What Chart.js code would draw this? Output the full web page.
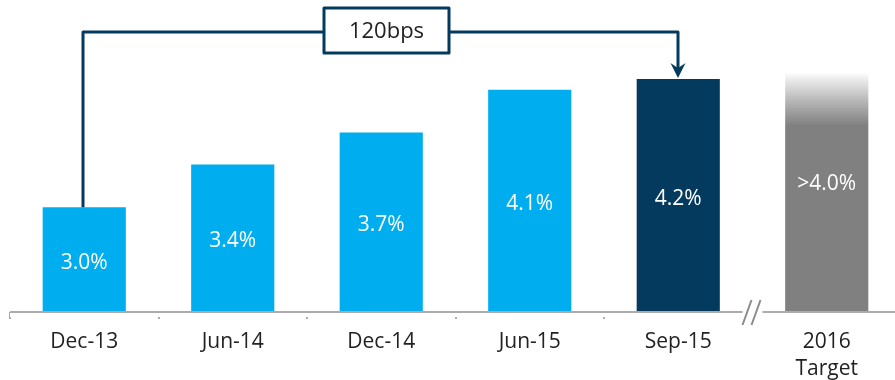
<!DOCTYPE html>
<html>
<head>
<meta charset="utf-8">
<script src="https://cdn.jsdelivr.net/npm/chart.js@4/dist/chart.umd.min.js"></script>
<style>
  html, body { margin: 0; padding: 0; background: #fff; overflow: hidden; }
  #wrap { width: 901px; height: 380px; }
</style>
</head>
<body>
<div id="wrap"><canvas id="nim" width="901" height="380"></canvas></div>
<script>
// Margin progression by period, plus 2016 target
const categories = ['Dec-13', 'Jun-14', 'Dec-14', 'Jun-15', 'Sep-15', ['2016', 'Target']];
const values = [3.0, 3.4, 3.7, 4.1, 4.2, 4.25];
const valueLabels = ['3.0%', '3.4%', '3.7%', '4.1%', '4.2%', '>4.0%'];
const spreadLabel = '120bps';
const spreadFrom = 0;   // Dec-13
const spreadTo = 4;     // Sep-15
const breakAfter = 4;   // axis break before the target bar

const LIGHT_BLUE = '#00AEEF';
const NAVY = '#043A5E';
const GREY = '#808080';
const AXIS_COLOR = '#ABABAB';
const TEXT_COLOR = '#222222';
const FONT = '"Open Sans", sans-serif';

function barColor(ctx) {
  const i = ctx.dataIndex;
  if (i === spreadTo) return NAVY;
  if (i < spreadTo) return LIGHT_BLUE;
  // target bar fades out towards the top
  const chart = ctx.chart;
  const y = chart.scales.y;
  if (!chart.chartArea || !y) return GREY;
  const top = y.getPixelForValue(values[i]);
  const g = chart.ctx.createLinearGradient(0, top, 0, top + 52);
  g.addColorStop(0, 'rgba(128,128,128,0.04)');
  g.addColorStop(0.5, 'rgba(128,128,128,0.55)');
  g.addColorStop(1, GREY);
  return g;
}

const overlay = {
  id: 'overlay',
  afterDatasetsDraw(chart) {
    const { ctx, chartArea } = chart;
    const meta = chart.getDatasetMeta(0);
    const xs = chart.scales.x;
    const bars = meta.data;
    const bottom = chartArea.bottom;

    // value labels inside bars
    ctx.save();
    ctx.font = '21px ' + FONT;
    ctx.fillStyle = '#fff';
    ctx.textAlign = 'center';
    ctx.textBaseline = 'middle';
    bars.forEach((b, i) => {
      const mid = (b.y + bottom) / 2;
      ctx.fillText(valueLabels[i], b.x, i === bars.length - 1 ? mid - 10 : mid + 2);
    });
    ctx.restore();

    // baseline axis with category ticks
    const yb = bottom - 2;
    ctx.save();
    ctx.strokeStyle = AXIS_COLOR;
    ctx.lineWidth = 2;
    ctx.beginPath();
    ctx.moveTo(chartArea.left, yb);
    ctx.lineTo(chart.width, yb);
    const half = (xs.getPixelForValue(1) - xs.getPixelForValue(0)) / 2;
    for (let i = 0; i <= breakAfter; i++) {
      const tx = Math.round(xs.getPixelForValue(i) - half);
      ctx.moveTo(tx, yb);
      ctx.lineTo(tx, yb + 7);
    }
    ctx.stroke();
    ctx.fillStyle = '#fff';
    ctx.fillRect(chartArea.left, yb + 1, chart.width, 4);

    // axis break marks
    const bx = xs.getPixelForValue(breakAfter) + half;
    ctx.fillRect(bx - 10, yb - 2, 20, 4);
    ctx.strokeStyle = '#8C8C8C';
    ctx.lineWidth = 2;
    ctx.beginPath();
    [-5, 4].forEach(dx => {
      ctx.moveTo(bx + dx - 5, yb + 13);
      ctx.lineTo(bx + dx + 4, yb - 12);
    });
    ctx.stroke();
    ctx.restore();

    // spread connector from first bar to highlighted bar
    const a = bars[spreadFrom];
    const c = bars[spreadTo];
    const x0 = Math.round(a.x) - 1;
    const x1 = Math.round(c.x);
    const lineY = 32;
    const boxW = 125, boxH = 45;
    const boxX = (x0 + x1) / 2 - boxW / 2 + 6;
    const boxY = 8;
    ctx.save();
    ctx.strokeStyle = NAVY;
    ctx.lineWidth = 3;
    ctx.lineJoin = 'round';
    ctx.beginPath();
    ctx.moveTo(x0, a.y);
    ctx.lineTo(x0, lineY);
    ctx.lineTo(boxX, lineY);
    ctx.moveTo(boxX + boxW, lineY);
    ctx.lineTo(x1, lineY);
    ctx.lineTo(x1, c.y - 10);
    ctx.stroke();

    // arrow head
    ctx.fillStyle = NAVY;
    ctx.beginPath();
    ctx.moveTo(x1, c.y - 1);
    ctx.lineTo(x1 - 7.5, c.y - 16);
    ctx.lineTo(x1, c.y - 11);
    ctx.lineTo(x1 + 7.5, c.y - 16);
    ctx.closePath();
    ctx.fill();

    // label box
    ctx.fillStyle = '#fff';
    ctx.fillRect(boxX, boxY, boxW, boxH);
    ctx.strokeRect(boxX, boxY, boxW, boxH);
    ctx.fillStyle = TEXT_COLOR;
    ctx.font = '22px ' + FONT;
    ctx.textAlign = 'center';
    ctx.textBaseline = 'middle';
    ctx.fillText(spreadLabel, boxX + boxW / 2, boxY + boxH / 2 + 1);
    ctx.restore();
  }
};

new Chart(document.getElementById('nim'), {
  type: 'bar',
  data: {
    labels: categories,
    datasets: [{
      data: values,
      backgroundColor: barColor,
      borderWidth: 0,
      categoryPercentage: 1,
      barPercentage: 0.56
    }]
  },
  options: {
    responsive: false,
    animation: false,
    layout: { padding: { left: 10, right: 0, top: 15, bottom: 0 } },
    plugins: {
      legend: { display: false },
      tooltip: { enabled: false }
    },
    scales: {
      x: {
        grid: { display: false, drawTicks: false },
        border: { display: false },
        ticks: {
          color: TEXT_COLOR,
          font: { family: FONT, size: 21, lineHeight: 1.3 },
          padding: 14,
          maxRotation: 0,
          autoSkip: false
        },
        afterFit(axis) { axis.height = 66; }
      },
      y: {
        display: false,
        min: 2,
        max: 4.8
      }
    }
  },
  plugins: [overlay]
});
</script>
</body>
</html>
